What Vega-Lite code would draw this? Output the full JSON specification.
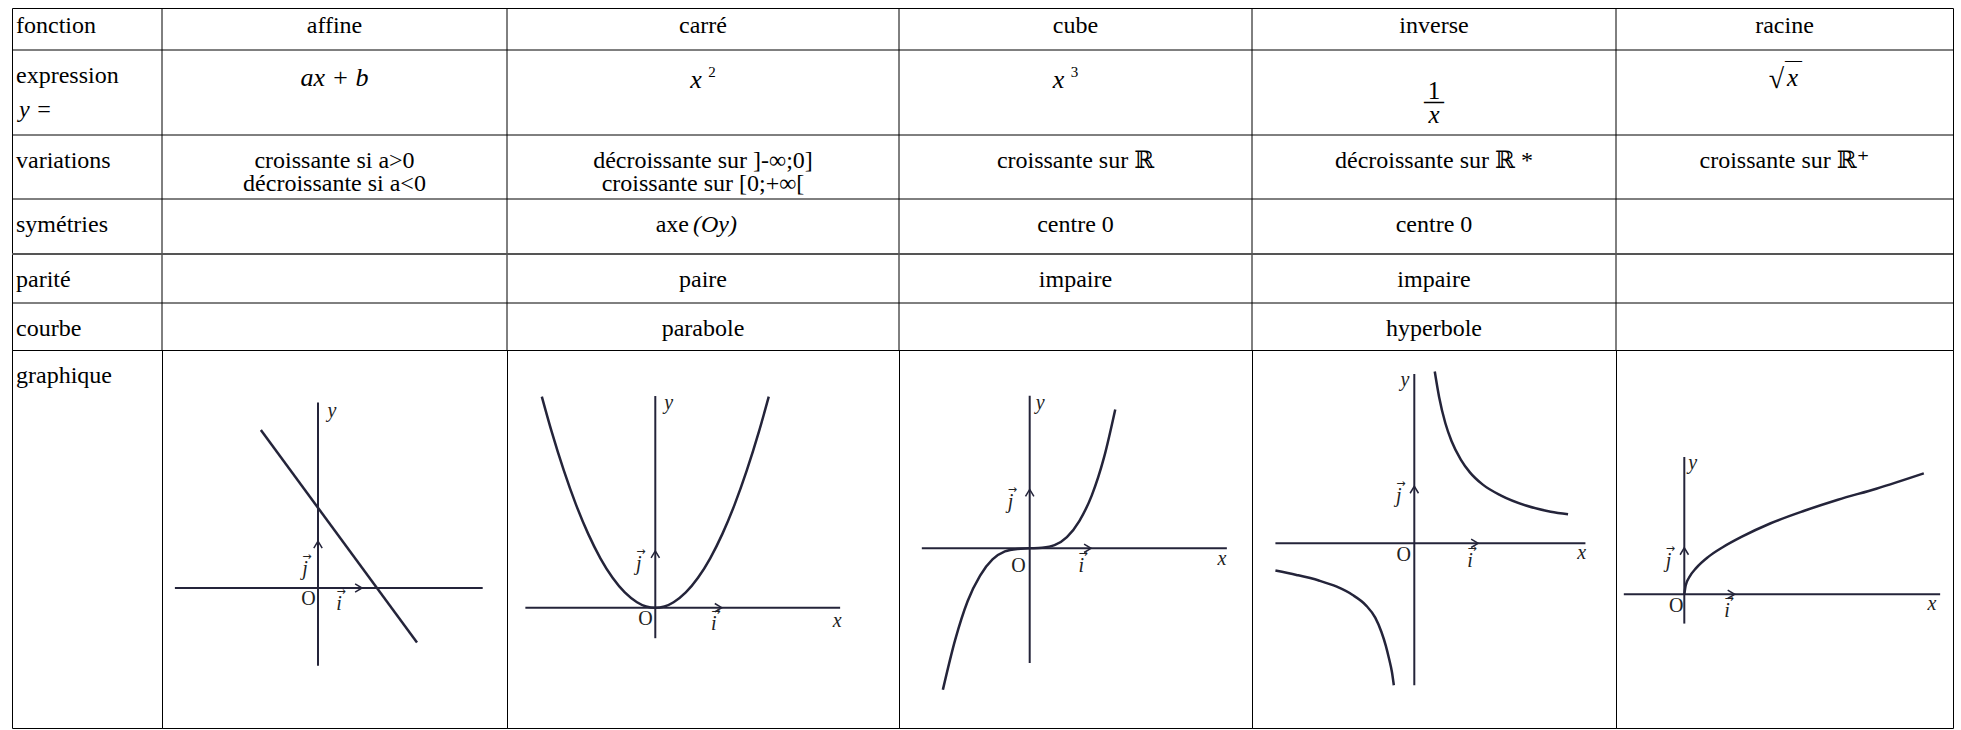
{
  "$schema": "https://vega.github.io/schema/vega-lite/v6.json",
  "padding": {"left": 10, "top": 7, "right": 0, "bottom": 0},
  "background": "white",
  "spacing": 0,
  "bounds": "flush",
  "config": {"view": {"stroke": "#000", "strokeWidth": 1}, "text": {"font": "Liberation Serif, DejaVu Serif, serif", "color": "#000"}},
  "datasets": {
    "grid": [
      {"dir": "v", "c": 1, "r": 0, "r2": 6}, {"dir": "v", "c": 2, "r": 0, "r2": 6}, {"dir": "v", "c": 3, "r": 0, "r2": 6},
      {"dir": "v", "c": 4, "r": 0, "r2": 6}, {"dir": "v", "c": 5, "r": 0, "r2": 6},
      {"dir": "h", "r": 1, "c": 0, "c2": 6}, {"dir": "h", "r": 2, "c": 0, "c2": 6}, {"dir": "h", "r": 3, "c": 0, "c2": 6},
      {"dir": "h", "r": 4, "c": 0, "c2": 6}, {"dir": "h", "r": 5, "c": 0, "c2": 6}
    ],
    "cells": [
      {"c": 0, "r": 0, "t": "fonction", "k": "hl"},
      {"c": 0, "r": 1, "t": "expression", "k": "label"},
      {"c": 0, "r": 1, "t": "y =", "k": "label2"},
      {"c": 0, "r": 2, "t": "variations", "k": "label"},
      {"c": 0, "r": 3, "t": "symétries", "k": "label"},
      {"c": 0, "r": 4, "t": "parité", "k": "label"},
      {"c": 0, "r": 5, "t": "courbe", "k": "label"},
      {"c": 0, "r": 6, "t": "graphique", "k": "label"},
      {"c": 1.5, "r": 0, "t": "affine", "k": "h"},
      {"c": 2.5, "r": 0, "t": "carré", "k": "h"},
      {"c": 3.5, "r": 0, "t": "cube", "k": "h"},
      {"c": 4.5, "r": 0, "t": "inverse", "k": "h"},
      {"c": 5.5, "r": 0, "t": "racine", "k": "h"},
      {"c": 1.5, "r": 1, "t": "ax + b", "k": "math"},
      {"c": 2.5, "r": 1, "t": "x", "k": "base"},
      {"c": 2.5, "r": 1, "t": "2", "k": "sup"},
      {"c": 3.5, "r": 1, "t": "x", "k": "base3"},
      {"c": 3.5, "r": 1, "t": "3", "k": "sup3"},
      {"c": 4.5, "r": 1, "t": "1", "k": "num"},
      {"c": 4.5, "r": 1, "t": "—", "k": "bar"},
      {"c": 4.5, "r": 1, "t": "x", "k": "den"},
      {"c": 5.5, "r": 1, "t": "√", "k": "rad"},
      {"c": 5.5, "r": 1, "t": "x", "k": "radx"},
      {"c": 5.5, "r": 1, "t": "—", "k": "radbar"},
      {"c": 1.5, "r": 2, "t": "croissante si a>0\ndécroissante si a<0", "k": "body"},
      {"c": 2.5, "r": 2, "t": "décroissante sur ]-∞;0]\ncroissante sur [0;+∞[", "k": "body"},
      {"c": 3.5, "r": 2, "t": "croissante sur ℝ", "k": "body"},
      {"c": 4.5, "r": 2, "t": "décroissante sur ℝ *", "k": "body"},
      {"c": 5.5, "r": 2, "t": "croissante sur ℝ⁺", "k": "body"},
      {"c": 2.5, "r": 3, "t": "axe", "k": "axe"},
      {"c": 2.5, "r": 3, "t": "(Oy)", "k": "oy"},
      {"c": 3.5, "r": 3, "t": "centre 0", "k": "body"},
      {"c": 4.5, "r": 3, "t": "centre 0", "k": "body"},
      {"c": 2.5, "r": 4, "t": "paire", "k": "body"},
      {"c": 3.5, "r": 4, "t": "impaire", "k": "body"},
      {"c": 4.5, "r": 4, "t": "impaire", "k": "body"},
      {"c": 2.5, "r": 5, "t": "parabole", "k": "body"},
      {"c": 4.5, "r": 5, "t": "hyperbole", "k": "body"}
    ],
    "axes": [
      {"g": "affine", "x": -3.18, "x2": 3.66, "y": 0, "y2": 0},
      {"g": "affine", "x": 0, "x2": 0, "y": -1.73, "y2": 4.12},
      {"g": "carre", "x": -2.13, "x2": 3.03, "y": 0, "y2": 0},
      {"g": "carre", "x": 0, "x2": 0, "y": -0.5, "y2": 3.47},
      {"g": "cube", "x": -1.74, "x2": 3.18, "y": 0, "y2": 0},
      {"g": "cube", "x": 0, "x2": 0, "y": -1.85, "y2": 2.46},
      {"g": "inverse", "x": -2.24, "x2": 2.76, "y": 0, "y2": 0},
      {"g": "inverse", "x": 0, "x2": 0, "y": -2.29, "y2": 2.73},
      {"g": "racine", "x": -1.26, "x2": 5.33, "y": 0, "y2": 0},
      {"g": "racine", "x": 0, "x2": 0, "y": -0.61, "y2": 2.86}
    ],
    "arrows": [
      {"g": "affine", "v": "j", "x": 0, "y": 1.04}, {"g": "affine", "v": "i", "x": 0.98, "y": 0},
      {"g": "carre", "v": "j", "x": 0, "y": 0.93}, {"g": "carre", "v": "i", "x": 1.09, "y": 0},
      {"g": "cube", "v": "j", "x": 0, "y": 0.95}, {"g": "cube", "v": "i", "x": 0.99, "y": 0},
      {"g": "inverse", "v": "j", "x": 0, "y": 0.92}, {"g": "inverse", "v": "i", "x": 1.03, "y": 0},
      {"g": "racine", "v": "j", "x": 0, "y": 0.97}, {"g": "racine", "v": "i", "x": 1.05, "y": 0}
    ],
    "curves": [
      {"g": "affine", "b": 0, "x": -1.27, "y": 3.51}, {"g": "affine", "b": 0, "x": 2.2, "y": -1.21},
      {"g": "carre", "b": 0, "x": -1.86, "y": 3.46}, {"g": "carre", "b": 0, "x": -1.7, "y": 2.89},
      {"g": "carre", "b": 0, "x": -1.5, "y": 2.25}, {"g": "carre", "b": 0, "x": -1.3, "y": 1.69},
      {"g": "carre", "b": 0, "x": -1.1, "y": 1.21}, {"g": "carre", "b": 0, "x": -0.9, "y": 0.81},
      {"g": "carre", "b": 0, "x": -0.7, "y": 0.49}, {"g": "carre", "b": 0, "x": -0.5, "y": 0.25},
      {"g": "carre", "b": 0, "x": -0.3, "y": 0.09}, {"g": "carre", "b": 0, "x": -0.15, "y": 0.02},
      {"g": "carre", "b": 0, "x": 0, "y": 0}, {"g": "carre", "b": 0, "x": 0.15, "y": 0.02},
      {"g": "carre", "b": 0, "x": 0.3, "y": 0.09}, {"g": "carre", "b": 0, "x": 0.5, "y": 0.25},
      {"g": "carre", "b": 0, "x": 0.7, "y": 0.49}, {"g": "carre", "b": 0, "x": 0.9, "y": 0.81},
      {"g": "carre", "b": 0, "x": 1.1, "y": 1.21}, {"g": "carre", "b": 0, "x": 1.3, "y": 1.69},
      {"g": "carre", "b": 0, "x": 1.5, "y": 2.25}, {"g": "carre", "b": 0, "x": 1.7, "y": 2.89},
      {"g": "carre", "b": 0, "x": 1.86, "y": 3.46},
      {"g": "cube", "b": 0, "x": -1.4, "y": -2.28}, {"g": "cube", "b": 0, "x": -1.2, "y": -1.47},
      {"g": "cube", "b": 0, "x": -1.0, "y": -0.85}, {"g": "cube", "b": 0, "x": -0.8, "y": -0.44},
      {"g": "cube", "b": 0, "x": -0.6, "y": -0.18}, {"g": "cube", "b": 0, "x": -0.4, "y": -0.05},
      {"g": "cube", "b": 0, "x": -0.2, "y": -0.01}, {"g": "cube", "b": 0, "x": 0, "y": 0},
      {"g": "cube", "b": 0, "x": 0.2, "y": 0.01}, {"g": "cube", "b": 0, "x": 0.4, "y": 0.05},
      {"g": "cube", "b": 0, "x": 0.6, "y": 0.18}, {"g": "cube", "b": 0, "x": 0.8, "y": 0.44},
      {"g": "cube", "b": 0, "x": 1.0, "y": 0.85}, {"g": "cube", "b": 0, "x": 1.2, "y": 1.47},
      {"g": "cube", "b": 0, "x": 1.38, "y": 2.24},
      {"g": "inverse", "b": 1, "x": 0.33, "y": 2.77}, {"g": "inverse", "b": 1, "x": 0.4, "y": 2.36},
      {"g": "inverse", "b": 1, "x": 0.5, "y": 1.94}, {"g": "inverse", "b": 1, "x": 0.6, "y": 1.65},
      {"g": "inverse", "b": 1, "x": 0.75, "y": 1.35}, {"g": "inverse", "b": 1, "x": 0.9, "y": 1.14},
      {"g": "inverse", "b": 1, "x": 1.1, "y": 0.95}, {"g": "inverse", "b": 1, "x": 1.4, "y": 0.77},
      {"g": "inverse", "b": 1, "x": 1.8, "y": 0.61}, {"g": "inverse", "b": 1, "x": 2.2, "y": 0.51},
      {"g": "inverse", "b": 1, "x": 2.48, "y": 0.47},
      {"g": "inverse", "b": 2, "x": -2.24, "y": -0.44}, {"g": "inverse", "b": 2, "x": -1.9, "y": -0.51},
      {"g": "inverse", "b": 2, "x": -1.54, "y": -0.6}, {"g": "inverse", "b": 2, "x": -1.25, "y": -0.7},
      {"g": "inverse", "b": 2, "x": -1.0, "y": -0.83}, {"g": "inverse", "b": 2, "x": -0.78, "y": -1.0},
      {"g": "inverse", "b": 2, "x": -0.63, "y": -1.2}, {"g": "inverse", "b": 2, "x": -0.53, "y": -1.43},
      {"g": "inverse", "b": 2, "x": -0.46, "y": -1.65}, {"g": "inverse", "b": 2, "x": -0.41, "y": -1.85},
      {"g": "inverse", "b": 2, "x": -0.36, "y": -2.08}, {"g": "inverse", "b": 2, "x": -0.33, "y": -2.29},
      {"g": "racine", "b": 0, "x": 0, "y": 0}, {"g": "racine", "b": 0, "x": 0.03, "y": 0.19},
      {"g": "racine", "b": 0, "x": 0.1, "y": 0.35}, {"g": "racine", "b": 0, "x": 0.25, "y": 0.55},
      {"g": "racine", "b": 0, "x": 0.5, "y": 0.78}, {"g": "racine", "b": 0, "x": 0.8, "y": 0.98},
      {"g": "racine", "b": 0, "x": 1.2, "y": 1.2}, {"g": "racine", "b": 0, "x": 1.8, "y": 1.48},
      {"g": "racine", "b": 0, "x": 2.5, "y": 1.74}, {"g": "racine", "b": 0, "x": 3.2, "y": 1.97},
      {"g": "racine", "b": 0, "x": 4.0, "y": 2.2}, {"g": "racine", "b": 0, "x": 4.99, "y": 2.52}
    ],
    "labels": [
      {"g": "affine", "k": "it", "t": "y", "x": 0.31, "y": 3.93},
      {"g": "affine", "k": "up", "t": "O", "x": -0.21, "y": -0.24},
      {"g": "affine", "k": "vec", "t": "j", "x": -0.29, "y": 0.42},
      {"g": "affine", "k": "vec", "t": "i", "x": 0.47, "y": -0.36},
      {"g": "carre", "k": "it", "t": "y", "x": 0.22, "y": 3.36},
      {"g": "carre", "k": "up", "t": "O", "x": -0.16, "y": -0.19},
      {"g": "carre", "k": "vec", "t": "j", "x": -0.27, "y": 0.72},
      {"g": "carre", "k": "vec", "t": "i", "x": 0.96, "y": -0.27},
      {"g": "carre", "k": "it", "t": "x", "x": 2.98, "y": -0.22},
      {"g": "cube", "k": "it", "t": "y", "x": 0.17, "y": 2.35},
      {"g": "cube", "k": "up", "t": "O", "x": -0.18, "y": -0.29},
      {"g": "cube", "k": "vec", "t": "j", "x": -0.31, "y": 0.74},
      {"g": "cube", "k": "vec", "t": "i", "x": 0.83, "y": -0.29},
      {"g": "cube", "k": "it", "t": "x", "x": 3.1, "y": -0.18},
      {"g": "inverse", "k": "it", "t": "y", "x": -0.15, "y": 2.63},
      {"g": "inverse", "k": "up", "t": "O", "x": -0.17, "y": -0.19},
      {"g": "inverse", "k": "vec", "t": "j", "x": -0.25, "y": 0.76},
      {"g": "inverse", "k": "vec", "t": "i", "x": 0.9, "y": -0.29},
      {"g": "inverse", "k": "it", "t": "x", "x": 2.7, "y": -0.15},
      {"g": "racine", "k": "it", "t": "y", "x": 0.175, "y": 2.74},
      {"g": "racine", "k": "up", "t": "O", "x": -0.17, "y": -0.24},
      {"g": "racine", "k": "vec", "t": "j", "x": -0.33, "y": 0.69},
      {"g": "racine", "k": "vec", "t": "i", "x": 0.89, "y": -0.35},
      {"g": "racine", "k": "it", "t": "x", "x": 5.16, "y": -0.21}
    ]
  },
  "vconcat": [
    {
      "width": 1941,
      "height": 342,
      "encoding": {
        "x": {"field": "c", "type": "quantitative", "scale": {"domain": [0, 1, 2, 3, 4, 5, 6], "range": [0, 150, 495, 887, 1240, 1604, 1941], "nice": false, "zero": false}, "axis": null},
        "y": {"field": "r", "type": "quantitative", "scale": {"domain": [0, 1, 2, 3, 4, 5, 6], "range": [0, 42, 127, 191, 246, 295, 342], "nice": false, "zero": false}, "axis": null}
      },
      "layer": [
        {"data": {"name": "grid"}, "transform": [{"filter": "datum.dir == 'v'"}], "mark": {"type": "rule", "stroke": "#000", "strokeWidth": 1}, "encoding": {"y2": {"field": "r2"}}},
        {"data": {"name": "grid"}, "transform": [{"filter": "datum.dir == 'h' && datum.r != 4"}], "mark": {"type": "rule", "stroke": "#000", "strokeWidth": 1}, "encoding": {"x2": {"field": "c2"}}},
        {"data": {"name": "grid"}, "transform": [{"filter": "datum.dir == 'h' && datum.r == 4"}], "mark": {"type": "rule", "stroke": "#555", "strokeWidth": 2}, "encoding": {"x2": {"field": "c2"}}},
        {"data": {"name": "cells"}, "transform": [{"filter": "datum.k == 'hl'"}], "mark": {"type": "text", "font": "Liberation Serif, DejaVu Serif, serif", "align": "left", "baseline": "alphabetic", "dx": 4, "dy": 25, "fontSize": 24}, "encoding": {"text": {"field": "t"}}},
        {"data": {"name": "cells"}, "transform": [{"filter": "datum.k == 'h'"}], "mark": {"type": "text", "font": "Liberation Serif, DejaVu Serif, serif", "align": "center", "baseline": "alphabetic", "dy": 25, "fontSize": 24}, "encoding": {"text": {"field": "t"}}},
        {"data": {"name": "cells"}, "transform": [{"filter": "datum.k == 'label' && datum.r < 6"}], "mark": {"type": "text", "font": "Liberation Serif, DejaVu Serif, serif", "align": "left", "baseline": "alphabetic", "dx": 4, "dy": 33, "fontSize": 24}, "encoding": {"text": {"field": "t"}}},
        {"data": {"name": "cells"}, "transform": [{"filter": "datum.k == 'label2'"}], "mark": {"type": "text", "font": "Liberation Serif, DejaVu Serif, serif", "align": "left", "baseline": "alphabetic", "dx": 7, "dy": 67, "fontSize": 24, "fontStyle": "italic"}, "encoding": {"text": {"field": "t"}}},
        {"data": {"name": "cells"}, "transform": [{"filter": "datum.k == 'body'"}], "mark": {"type": "text", "font": "Liberation Serif, DejaVu Serif, serif", "align": "center", "baseline": "alphabetic", "dy": 33, "fontSize": 24, "lineBreak": "\n", "lineHeight": 23}, "encoding": {"text": {"field": "t"}}},
        {"data": {"name": "cells"}, "transform": [{"filter": "datum.k == 'math'"}], "mark": {"type": "text", "font": "Liberation Serif, DejaVu Serif, serif", "align": "center", "baseline": "alphabetic", "dy": 36, "fontSize": 26, "fontStyle": "italic"}, "encoding": {"text": {"field": "t"}}},
        {"data": {"name": "cells"}, "transform": [{"filter": "datum.k == 'base'"}], "mark": {"type": "text", "font": "Liberation Serif, DejaVu Serif, serif", "align": "center", "baseline": "alphabetic", "dx": -7, "dy": 38, "fontSize": 26, "fontStyle": "italic"}, "encoding": {"text": {"field": "t"}}},
        {"data": {"name": "cells"}, "transform": [{"filter": "datum.k == 'sup'"}], "mark": {"type": "text", "font": "Liberation Serif, DejaVu Serif, serif", "align": "center", "baseline": "alphabetic", "dx": 9, "dy": 27, "fontSize": 15}, "encoding": {"text": {"field": "t"}}},
        {"data": {"name": "cells"}, "transform": [{"filter": "datum.k == 'base3'"}], "mark": {"type": "text", "font": "Liberation Serif, DejaVu Serif, serif", "align": "center", "baseline": "alphabetic", "dx": -17, "dy": 38, "fontSize": 26, "fontStyle": "italic"}, "encoding": {"text": {"field": "t"}}},
        {"data": {"name": "cells"}, "transform": [{"filter": "datum.k == 'sup3'"}], "mark": {"type": "text", "font": "Liberation Serif, DejaVu Serif, serif", "align": "center", "baseline": "alphabetic", "dx": -1, "dy": 27, "fontSize": 15}, "encoding": {"text": {"field": "t"}}},
        {"data": {"name": "cells"}, "transform": [{"filter": "datum.k == 'num'"}], "mark": {"type": "text", "font": "Liberation Serif, DejaVu Serif, serif", "align": "center", "baseline": "alphabetic", "dy": 49, "fontSize": 25}, "encoding": {"text": {"field": "t"}}},
        {"data": {"name": "cells"}, "transform": [{"filter": "datum.k == 'bar'"}], "mark": {"type": "text", "font": "Liberation Serif, DejaVu Serif, serif", "align": "center", "baseline": "alphabetic", "dy": 58, "fontSize": 20, "fontWeight": "bold"}, "encoding": {"text": {"field": "t"}}},
        {"data": {"name": "cells"}, "transform": [{"filter": "datum.k == 'den'"}], "mark": {"type": "text", "font": "Liberation Serif, DejaVu Serif, serif", "align": "center", "baseline": "alphabetic", "dy": 73, "fontSize": 25, "fontStyle": "italic"}, "encoding": {"text": {"field": "t"}}},
        {"data": {"name": "cells"}, "transform": [{"filter": "datum.k == 'rad'"}], "mark": {"type": "text", "font": "Liberation Serif, DejaVu Serif, serif", "align": "center", "baseline": "alphabetic", "dx": -8, "dy": 38, "fontSize": 28}, "encoding": {"text": {"field": "t"}}},
        {"data": {"name": "cells"}, "transform": [{"filter": "datum.k == 'radx'"}], "mark": {"type": "text", "font": "Liberation Serif, DejaVu Serif, serif", "align": "center", "baseline": "alphabetic", "dx": 8, "dy": 36, "fontSize": 25, "fontStyle": "italic"}, "encoding": {"text": {"field": "t"}}},
        {"data": {"name": "cells"}, "transform": [{"filter": "datum.k == 'radbar'"}], "mark": {"type": "text", "font": "Liberation Serif, DejaVu Serif, serif", "align": "center", "baseline": "alphabetic", "dx": 9, "dy": 15, "fontSize": 17}, "encoding": {"text": {"field": "t"}}},
        {"data": {"name": "cells"}, "transform": [{"filter": "datum.k == 'axe'"}], "mark": {"type": "text", "font": "Liberation Serif, DejaVu Serif, serif", "align": "right", "baseline": "alphabetic", "dx": -14, "dy": 33, "fontSize": 24}, "encoding": {"text": {"field": "t"}}},
        {"data": {"name": "cells"}, "transform": [{"filter": "datum.k == 'oy'"}], "mark": {"type": "text", "font": "Liberation Serif, DejaVu Serif, serif", "align": "left", "baseline": "alphabetic", "dx": -10, "dy": 33, "fontSize": 24, "fontStyle": "italic"}, "encoding": {"text": {"field": "t"}}}
      ]
    },
    {
      "hconcat": [
        {
          "width": 150,
          "height": 378,
          "data": {"name": "cells"},
          "transform": [{"filter": "datum.r == 6"}],
          "mark": {"type": "text", "font": "Liberation Serif, DejaVu Serif, serif", "align": "left", "baseline": "alphabetic", "dx": 4, "dy": 33, "fontSize": 24},
          "encoding": {
            "x": {"field": "c", "type": "quantitative", "scale": {"domain": [0, 1], "nice": false, "zero": false}, "axis": null},
            "y": {"field": "r", "type": "quantitative", "scale": {"domain": [6, 7], "reverse": true, "nice": false, "zero": false}, "axis": null},
            "text": {"field": "t"}
          }
        },
        {
          "width": 345,
          "height": 378,
          "encoding": {
            "x": {"field": "x", "type": "quantitative", "scale": {"domain": [-3.4667, 4.2], "nice": false, "zero": false}, "axis": null},
            "y": {"field": "y", "type": "quantitative", "scale": {"domain": [-3.1111, 5.2889], "nice": false, "zero": false}, "axis": null}
          },
          "layer": [
            {"data": {"name": "axes"}, "transform": [{"filter": "datum.g == 'affine'"}], "mark": {"type": "rule", "stroke": "#24243a", "strokeWidth": 2}, "encoding": {"x2": {"field": "x2"}, "y2": {"field": "y2"}}},
            {"data": {"name": "curves"}, "transform": [{"filter": "datum.g == 'affine'"}], "mark": {"type": "line", "interpolate": "monotone", "stroke": "#24243a", "strokeWidth": 2.5}, "encoding": {"detail": {"field": "b"}}},
            {"data": {"name": "arrows"}, "transform": [{"filter": "datum.g == 'affine' && datum.v == 'j'"}], "mark": {"type": "point", "shape": "M-0.6,1L0,0L0.6,1", "size": 196, "filled": false, "stroke": "#24243a", "strokeWidth": 1.5, "opacity": 1}},
            {"data": {"name": "arrows"}, "transform": [{"filter": "datum.g == 'affine' && datum.v == 'i'"}], "mark": {"type": "point", "shape": "M-1,-0.6L0,0L-1,0.6", "size": 196, "filled": false, "stroke": "#24243a", "strokeWidth": 1.5, "opacity": 1}},
            {"data": {"name": "labels"}, "transform": [{"filter": "datum.g == 'affine' && datum.k == 'up'"}], "mark": {"type": "text", "font": "Liberation Serif, DejaVu Serif, serif", "baseline": "middle", "fontSize": 20, "color": "#222"}, "encoding": {"text": {"field": "t"}}},
            {"data": {"name": "labels"}, "transform": [{"filter": "datum.g == 'affine' && datum.k != 'up'"}], "mark": {"type": "text", "font": "Liberation Serif, DejaVu Serif, serif", "baseline": "middle", "fontSize": 20, "fontStyle": "italic", "color": "#222"}, "encoding": {"text": {"field": "t"}}},
            {"data": {"name": "labels"}, "transform": [{"filter": "datum.g == 'affine' && datum.k == 'vec'"}], "mark": {"type": "text", "font": "DejaVu Sans", "baseline": "middle", "fontSize": 11, "dx": 2, "dy": -12, "color": "#222", "text": "→"}}
          ]
        },
        {
          "width": 392,
          "height": 378,
          "encoding": {
            "x": {"field": "x", "type": "quantitative", "scale": {"domain": [-2.4311, 3.9951], "nice": false, "zero": false}, "axis": null},
            "y": {"field": "y", "type": "quantitative", "scale": {"domain": [-1.9721, 4.2246], "nice": false, "zero": false}, "axis": null}
          },
          "layer": [
            {"data": {"name": "axes"}, "transform": [{"filter": "datum.g == 'carre'"}], "mark": {"type": "rule", "stroke": "#24243a", "strokeWidth": 2}, "encoding": {"x2": {"field": "x2"}, "y2": {"field": "y2"}}},
            {"data": {"name": "curves"}, "transform": [{"filter": "datum.g == 'carre'"}], "mark": {"type": "line", "interpolate": "monotone", "stroke": "#24243a", "strokeWidth": 2.5}, "encoding": {"detail": {"field": "b"}}},
            {"data": {"name": "arrows"}, "transform": [{"filter": "datum.g == 'carre' && datum.v == 'j'"}], "mark": {"type": "point", "shape": "M-0.6,1L0,0L0.6,1", "size": 196, "filled": false, "stroke": "#24243a", "strokeWidth": 1.5, "opacity": 1}},
            {"data": {"name": "arrows"}, "transform": [{"filter": "datum.g == 'carre' && datum.v == 'i'"}], "mark": {"type": "point", "shape": "M-1,-0.6L0,0L-1,0.6", "size": 196, "filled": false, "stroke": "#24243a", "strokeWidth": 1.5, "opacity": 1}},
            {"data": {"name": "labels"}, "transform": [{"filter": "datum.g == 'carre' && datum.k == 'up'"}], "mark": {"type": "text", "font": "Liberation Serif, DejaVu Serif, serif", "baseline": "middle", "fontSize": 20, "color": "#222"}, "encoding": {"text": {"field": "t"}}},
            {"data": {"name": "labels"}, "transform": [{"filter": "datum.g == 'carre' && datum.k != 'up'"}], "mark": {"type": "text", "font": "Liberation Serif, DejaVu Serif, serif", "baseline": "middle", "fontSize": 20, "fontStyle": "italic", "color": "#222"}, "encoding": {"text": {"field": "t"}}},
            {"data": {"name": "labels"}, "transform": [{"filter": "datum.g == 'carre' && datum.k == 'vec'"}], "mark": {"type": "text", "font": "DejaVu Sans", "baseline": "middle", "fontSize": 11, "dx": 2, "dy": -12, "color": "#222", "text": "→"}}
          ]
        },
        {
          "width": 353,
          "height": 378,
          "encoding": {
            "x": {"field": "x", "type": "quantitative", "scale": {"domain": [-2.1081, 3.5855], "nice": false, "zero": false}, "axis": null},
            "y": {"field": "y", "type": "quantitative", "scale": {"domain": [-2.8984, 3.1984], "nice": false, "zero": false}, "axis": null}
          },
          "layer": [
            {"data": {"name": "axes"}, "transform": [{"filter": "datum.g == 'cube'"}], "mark": {"type": "rule", "stroke": "#24243a", "strokeWidth": 2}, "encoding": {"x2": {"field": "x2"}, "y2": {"field": "y2"}}},
            {"data": {"name": "curves"}, "transform": [{"filter": "datum.g == 'cube'"}], "mark": {"type": "line", "interpolate": "monotone", "stroke": "#24243a", "strokeWidth": 2.5}, "encoding": {"detail": {"field": "b"}}},
            {"data": {"name": "arrows"}, "transform": [{"filter": "datum.g == 'cube' && datum.v == 'j'"}], "mark": {"type": "point", "shape": "M-0.6,1L0,0L0.6,1", "size": 196, "filled": false, "stroke": "#24243a", "strokeWidth": 1.5, "opacity": 1}},
            {"data": {"name": "arrows"}, "transform": [{"filter": "datum.g == 'cube' && datum.v == 'i'"}], "mark": {"type": "point", "shape": "M-1,-0.6L0,0L-1,0.6", "size": 196, "filled": false, "stroke": "#24243a", "strokeWidth": 1.5, "opacity": 1}},
            {"data": {"name": "labels"}, "transform": [{"filter": "datum.g == 'cube' && datum.k == 'up'"}], "mark": {"type": "text", "font": "Liberation Serif, DejaVu Serif, serif", "baseline": "middle", "fontSize": 20, "color": "#222"}, "encoding": {"text": {"field": "t"}}},
            {"data": {"name": "labels"}, "transform": [{"filter": "datum.g == 'cube' && datum.k != 'up'"}], "mark": {"type": "text", "font": "Liberation Serif, DejaVu Serif, serif", "baseline": "middle", "fontSize": 20, "fontStyle": "italic", "color": "#222"}, "encoding": {"text": {"field": "t"}}},
            {"data": {"name": "labels"}, "transform": [{"filter": "datum.g == 'cube' && datum.k == 'vec'"}], "mark": {"type": "text", "font": "DejaVu Sans", "baseline": "middle", "fontSize": 11, "dx": 2, "dy": -12, "color": "#222", "text": "→"}}
          ]
        },
        {
          "width": 364,
          "height": 378,
          "encoding": {
            "x": {"field": "x", "type": "quantitative", "scale": {"domain": [-2.6177, 3.2532], "nice": false, "zero": false}, "axis": null},
            "y": {"field": "y", "type": "quantitative", "scale": {"domain": [-2.979, 3.1177], "nice": false, "zero": false}, "axis": null}
          },
          "layer": [
            {"data": {"name": "axes"}, "transform": [{"filter": "datum.g == 'inverse'"}], "mark": {"type": "rule", "stroke": "#24243a", "strokeWidth": 2}, "encoding": {"x2": {"field": "x2"}, "y2": {"field": "y2"}}},
            {"data": {"name": "curves"}, "transform": [{"filter": "datum.g == 'inverse'"}], "mark": {"type": "line", "interpolate": "monotone", "stroke": "#24243a", "strokeWidth": 2.5}, "encoding": {"detail": {"field": "b"}}},
            {"data": {"name": "arrows"}, "transform": [{"filter": "datum.g == 'inverse' && datum.v == 'j'"}], "mark": {"type": "point", "shape": "M-0.6,1L0,0L0.6,1", "size": 196, "filled": false, "stroke": "#24243a", "strokeWidth": 1.5, "opacity": 1}},
            {"data": {"name": "arrows"}, "transform": [{"filter": "datum.g == 'inverse' && datum.v == 'i'"}], "mark": {"type": "point", "shape": "M-1,-0.6L0,0L-1,0.6", "size": 196, "filled": false, "stroke": "#24243a", "strokeWidth": 1.5, "opacity": 1}},
            {"data": {"name": "labels"}, "transform": [{"filter": "datum.g == 'inverse' && datum.k == 'up'"}], "mark": {"type": "text", "font": "Liberation Serif, DejaVu Serif, serif", "baseline": "middle", "fontSize": 20, "color": "#222"}, "encoding": {"text": {"field": "t"}}},
            {"data": {"name": "labels"}, "transform": [{"filter": "datum.g == 'inverse' && datum.k != 'up'"}], "mark": {"type": "text", "font": "Liberation Serif, DejaVu Serif, serif", "baseline": "middle", "fontSize": 20, "fontStyle": "italic", "color": "#222"}, "encoding": {"text": {"field": "t"}}},
            {"data": {"name": "labels"}, "transform": [{"filter": "datum.g == 'inverse' && datum.k == 'vec'"}], "mark": {"type": "text", "font": "DejaVu Sans", "baseline": "middle", "fontSize": 11, "dx": 2, "dy": -12, "color": "#222", "text": "→"}}
          ]
        },
        {
          "width": 337,
          "height": 378,
          "encoding": {
            "x": {"field": "x", "type": "quantitative", "scale": {"domain": [-1.4229, 5.5979], "nice": false, "zero": false}, "axis": null},
            "y": {"field": "y", "type": "quantitative", "scale": {"domain": [-2.7854, 5.0896], "nice": false, "zero": false}, "axis": null}
          },
          "layer": [
            {"data": {"name": "axes"}, "transform": [{"filter": "datum.g == 'racine'"}], "mark": {"type": "rule", "stroke": "#24243a", "strokeWidth": 2}, "encoding": {"x2": {"field": "x2"}, "y2": {"field": "y2"}}},
            {"data": {"name": "curves"}, "transform": [{"filter": "datum.g == 'racine'"}], "mark": {"type": "line", "interpolate": "monotone", "stroke": "#24243a", "strokeWidth": 2.5}, "encoding": {"detail": {"field": "b"}}},
            {"data": {"name": "arrows"}, "transform": [{"filter": "datum.g == 'racine' && datum.v == 'j'"}], "mark": {"type": "point", "shape": "M-0.6,1L0,0L0.6,1", "size": 196, "filled": false, "stroke": "#24243a", "strokeWidth": 1.5, "opacity": 1}},
            {"data": {"name": "arrows"}, "transform": [{"filter": "datum.g == 'racine' && datum.v == 'i'"}], "mark": {"type": "point", "shape": "M-1,-0.6L0,0L-1,0.6", "size": 196, "filled": false, "stroke": "#24243a", "strokeWidth": 1.5, "opacity": 1}},
            {"data": {"name": "labels"}, "transform": [{"filter": "datum.g == 'racine' && datum.k == 'up'"}], "mark": {"type": "text", "font": "Liberation Serif, DejaVu Serif, serif", "baseline": "middle", "fontSize": 20, "color": "#222"}, "encoding": {"text": {"field": "t"}}},
            {"data": {"name": "labels"}, "transform": [{"filter": "datum.g == 'racine' && datum.k != 'up'"}], "mark": {"type": "text", "font": "Liberation Serif, DejaVu Serif, serif", "baseline": "middle", "fontSize": 20, "fontStyle": "italic", "color": "#222"}, "encoding": {"text": {"field": "t"}}},
            {"data": {"name": "labels"}, "transform": [{"filter": "datum.g == 'racine' && datum.k == 'vec'"}], "mark": {"type": "text", "font": "DejaVu Sans", "baseline": "middle", "fontSize": 11, "dx": 2, "dy": -12, "color": "#222", "text": "→"}}
          ]
        }
      ],
      "spacing": 0,
      "bounds": "flush"
    }
  ]
}
